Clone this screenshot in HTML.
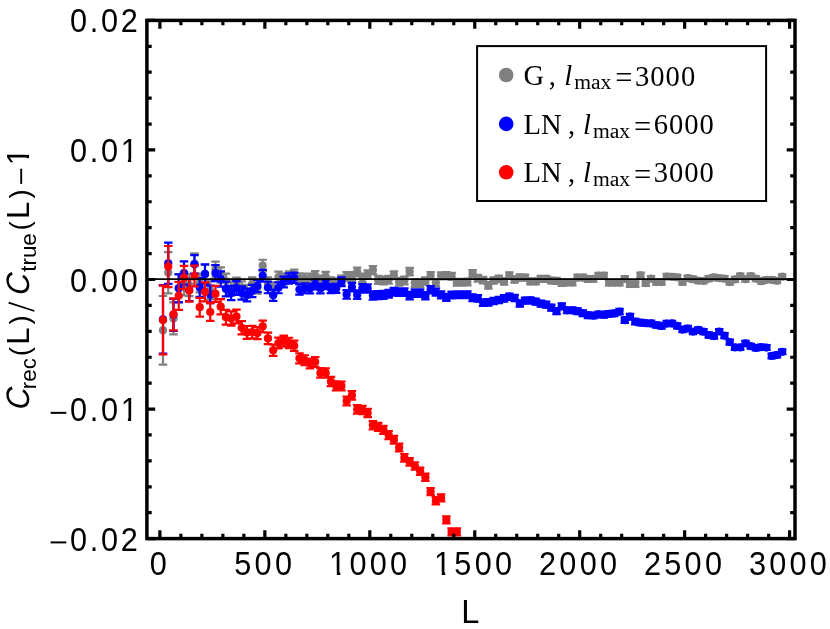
<!DOCTYPE html>
<html><head><meta charset="utf-8"><title>plot</title>
<style>html,body{margin:0;padding:0;background:#fff}svg{display:block;will-change:transform}</style></head>
<body>
<svg width="830" height="629" viewBox="0 0 830 629" style="display:block">
<rect width="830" height="629" fill="#fff"/>
<defs><clipPath id="cp"><rect x="146.9" y="20.4" width="648.1" height="518.2"/></clipPath></defs>
<g clip-path="url(#cp)">
<g fill="#808080" stroke="none"><circle cx="163.00" cy="330.30" r="4.1"/><circle cx="168.25" cy="272.70" r="4.1"/><circle cx="173.50" cy="318.40" r="4.1"/><circle cx="178.74" cy="288.00" r="4.1"/><circle cx="183.99" cy="283.70" r="4.1"/><circle cx="189.24" cy="285.00" r="4.1"/><circle cx="194.49" cy="263.60" r="4.1"/><circle cx="199.73" cy="283.00" r="4.1"/><circle cx="204.98" cy="274.30" r="4.1"/><circle cx="210.23" cy="290.00" r="4.1"/><circle cx="215.47" cy="269.60" r="4.1"/><circle cx="220.72" cy="275.00" r="4.1"/><circle cx="225.97" cy="281.00" r="4.1"/><circle cx="231.22" cy="288.50" r="4.1"/><circle cx="236.46" cy="284.50" r="4.1"/><circle cx="241.71" cy="288.00" r="4.1"/><circle cx="246.96" cy="291.30" r="4.1"/><circle cx="252.21" cy="283.50" r="4.1"/><circle cx="257.45" cy="287.60" r="4.1"/><circle cx="262.70" cy="265.60" r="4.1"/><circle cx="267.95" cy="283.00" r="4.1"/><circle cx="273.20" cy="288.00" r="4.1"/><circle cx="278.44" cy="277.00" r="4.1"/><circle cx="283.69" cy="279.00" r="4.1"/><circle cx="288.94" cy="276.50" r="4.1"/><circle cx="294.19" cy="274.70" r="4.1"/><circle cx="299.44" cy="278.50" r="4.1"/><circle cx="304.68" cy="278.50" r="4.1"/><circle cx="309.93" cy="278.50" r="4.1"/><circle cx="315.18" cy="275.90" r="4.1"/><circle cx="320.42" cy="280.30" r="4.1"/><circle cx="325.67" cy="276.60" r="4.1"/><circle cx="330.92" cy="282.00" r="4.1"/><circle cx="336.17" cy="282.80" r="4.1"/><circle cx="341.41" cy="280.00" r="4.1"/><circle cx="346.66" cy="276.50" r="4.1"/><circle cx="351.91" cy="276.50" r="4.1"/><circle cx="357.16" cy="271.90" r="4.1"/><circle cx="362.40" cy="277.80" r="4.1"/><circle cx="367.65" cy="274.50" r="4.1"/><circle cx="372.90" cy="270.10" r="4.1"/><circle cx="378.15" cy="279.80" r="4.1"/><circle cx="383.39" cy="280.50" r="4.1"/><circle cx="388.64" cy="279.80" r="4.1"/><circle cx="393.89" cy="275.20" r="4.1"/><circle cx="399.14" cy="281.80" r="4.1"/><circle cx="404.38" cy="280.50" r="4.1"/><circle cx="409.63" cy="271.60" r="4.1"/><circle cx="414.88" cy="283.10" r="4.1"/><circle cx="420.13" cy="283.10" r="4.1"/><circle cx="425.38" cy="281.10" r="4.1"/><circle cx="430.62" cy="275.80" r="4.1"/><circle cx="435.87" cy="282.70" r="4.1"/><circle cx="441.12" cy="275.80" r="4.1"/><circle cx="446.36" cy="275.60" r="4.1"/><circle cx="451.61" cy="276.30" r="4.1"/><circle cx="456.86" cy="282.20" r="4.1"/><circle cx="462.11" cy="282.20" r="4.1"/><circle cx="467.35" cy="282.00" r="4.1"/><circle cx="472.60" cy="273.50" r="4.1"/><circle cx="477.85" cy="278.20" r="4.1"/><circle cx="483.10" cy="280.20" r="4.1"/><circle cx="488.34" cy="285.40" r="4.1"/><circle cx="493.59" cy="280.50" r="4.1"/><circle cx="498.84" cy="278.90" r="4.1"/><circle cx="504.09" cy="281.40" r="4.1"/><circle cx="509.33" cy="275.60" r="4.1"/><circle cx="514.58" cy="279.50" r="4.1"/><circle cx="519.83" cy="277.60" r="4.1"/><circle cx="525.08" cy="277.60" r="4.1"/><circle cx="530.33" cy="281.40" r="4.1"/><circle cx="535.57" cy="281.40" r="4.1"/><circle cx="540.82" cy="278.90" r="4.1"/><circle cx="546.07" cy="278.90" r="4.1"/><circle cx="551.32" cy="280.50" r="4.1"/><circle cx="556.56" cy="280.90" r="4.1"/><circle cx="561.81" cy="282.90" r="4.1"/><circle cx="567.06" cy="282.50" r="4.1"/><circle cx="572.30" cy="282.50" r="4.1"/><circle cx="577.55" cy="277.60" r="4.1"/><circle cx="582.80" cy="277.60" r="4.1"/><circle cx="588.05" cy="278.90" r="4.1"/><circle cx="593.29" cy="278.90" r="4.1"/><circle cx="598.54" cy="275.60" r="4.1"/><circle cx="603.79" cy="275.60" r="4.1"/><circle cx="609.04" cy="282.70" r="4.1"/><circle cx="614.28" cy="282.70" r="4.1"/><circle cx="619.53" cy="282.70" r="4.1"/><circle cx="624.78" cy="278.90" r="4.1"/><circle cx="630.03" cy="284.10" r="4.1"/><circle cx="635.27" cy="284.10" r="4.1"/><circle cx="640.52" cy="275.40" r="4.1"/><circle cx="645.77" cy="283.10" r="4.1"/><circle cx="651.02" cy="278.70" r="4.1"/><circle cx="656.26" cy="282.10" r="4.1"/><circle cx="661.51" cy="282.10" r="4.1"/><circle cx="666.76" cy="276.50" r="4.1"/><circle cx="672.01" cy="276.80" r="4.1"/><circle cx="677.25" cy="277.40" r="4.1"/><circle cx="682.50" cy="282.10" r="4.1"/><circle cx="687.75" cy="278.10" r="4.1"/><circle cx="693.00" cy="279.20" r="4.1"/><circle cx="698.25" cy="280.60" r="4.1"/><circle cx="703.49" cy="280.80" r="4.1"/><circle cx="708.74" cy="278.70" r="4.1"/><circle cx="713.99" cy="277.30" r="4.1"/><circle cx="719.24" cy="278.10" r="4.1"/><circle cx="724.48" cy="278.70" r="4.1"/><circle cx="729.73" cy="282.10" r="4.1"/><circle cx="734.98" cy="279.40" r="4.1"/><circle cx="740.22" cy="276.10" r="4.1"/><circle cx="745.47" cy="279.20" r="4.1"/><circle cx="750.72" cy="276.10" r="4.1"/><circle cx="755.97" cy="278.70" r="4.1"/><circle cx="761.21" cy="281.20" r="4.1"/><circle cx="766.46" cy="279.80" r="4.1"/><circle cx="771.71" cy="279.80" r="4.1"/><circle cx="776.96" cy="280.80" r="4.1"/><circle cx="782.20" cy="276.70" r="4.1"/></g>
<path d="M163.00 296.00V364.60M158.75 296.00H167.25M158.75 364.60H167.25M168.25 252.10V293.30M164.00 252.10H172.50M164.00 293.30H172.50M173.50 302.40V334.40M169.25 302.40H177.75M169.25 334.40H177.75M178.74 274.00V302.00M174.49 274.00H182.99M174.49 302.00H182.99M183.99 272.10V295.30M179.74 272.10H188.24M179.74 295.30H188.24M189.24 273.90V296.10M184.99 273.90H193.49M184.99 296.10H193.49M194.49 253.30V273.90M190.24 253.30H198.74M190.24 273.90H198.74M199.73 273.60V292.40M195.48 273.60H203.98M195.48 292.40H203.98M204.98 264.80V283.80M200.73 264.80H209.23M200.73 283.80H209.23M210.23 281.20V298.80M205.98 281.20H214.48M205.98 298.80H214.48M215.47 261.61V277.59M211.22 261.61H219.72M211.22 277.59H219.72M220.72 267.36V282.64M216.47 267.36H224.97M216.47 282.64H224.97M225.97 273.67V288.33M221.72 273.67H230.22M221.72 288.33H230.22M231.22 281.45V295.55M226.97 281.45H235.47M226.97 295.55H235.47M236.46 277.69V291.31M232.21 277.69H240.71M232.21 291.31H240.71M241.71 281.42V294.58M237.46 281.42H245.96M237.46 294.58H245.96M246.96 284.92V297.68M242.71 284.92H251.21M242.71 297.68H251.21M252.21 277.30V289.70M247.96 277.30H256.46M247.96 289.70H256.46M257.45 281.57V293.63M253.20 281.57H261.70M253.20 293.63H261.70M262.70 259.73V271.47M258.45 259.73H266.95M258.45 271.47H266.95M267.95 277.27V288.73M263.70 277.27H272.20M263.70 288.73H272.20M273.20 282.40V293.60M268.95 282.40H277.45M268.95 293.60H277.45M278.44 271.53V282.47M274.19 271.53H282.69M274.19 282.47H282.69M283.69 273.65V284.35M279.44 273.65H287.94M279.44 284.35H287.94M288.94 271.26V281.74M284.69 271.26H293.19M284.69 281.74H293.19M294.19 269.56V279.84M289.94 269.56H298.44M289.94 279.84H298.44M299.44 273.46V283.54M295.19 273.46H303.69M295.19 283.54H303.69M304.68 273.55V283.45M300.43 273.55H308.93M300.43 283.45H308.93M309.93 273.64V283.36M305.68 273.64H314.18M305.68 283.36H314.18M315.18 271.12V280.68M310.93 271.12H319.43M310.93 280.68H319.43M320.42 275.60V285.00M316.17 275.60H324.67M316.17 285.00H324.67M325.67 271.97V281.23M321.42 271.97H329.92M321.42 281.23H329.92M330.92 277.45V286.55M326.67 277.45H335.17M326.67 286.55H335.17M336.17 278.31V287.29M331.92 278.31H340.42M331.92 287.29H340.42M341.41 275.58V284.42M337.16 275.58H345.66M337.16 284.42H345.66M346.66 272.14V280.86M342.41 272.14H350.91M342.41 280.86H350.91M351.91 272.20V280.80M347.66 272.20H356.16M347.66 280.80H356.16M357.16 267.66V276.14M352.91 267.66H361.41M352.91 276.14H361.41M362.40 273.61V281.99M358.15 273.61H366.65M358.15 281.99H366.65M367.65 270.37V278.63M363.40 270.37H371.90M363.40 278.63H371.90M372.90 266.02V274.18M368.65 266.02H377.15M368.65 274.18H377.15M378.15 275.77V283.83M373.90 275.77H382.40M373.90 283.83H382.40M383.39 276.52V284.48M379.14 276.52H387.64M379.14 284.48H387.64M388.64 275.86V283.74M384.39 275.86H392.89M384.39 283.74H392.89M393.89 271.31V279.09M389.64 271.31H398.14M389.64 279.09H398.14M399.14 277.95V285.65M394.89 277.95H403.39M394.89 285.65H403.39M404.38 276.69V284.31M400.13 276.69H408.63M400.13 284.31H408.63M409.63 267.83V275.37M405.38 267.83H413.88M405.38 275.37H413.88M414.88 279.37V286.83M410.63 279.37H419.13M410.63 286.83H419.13M420.13 279.41V286.79M415.88 279.41H424.38M415.88 286.79H424.38M425.38 277.44V284.76M421.12 277.44H429.62M421.12 284.76H429.62M430.62 272.18V279.42M426.37 272.18H434.87M426.37 279.42H434.87M435.87 279.11V286.29M431.62 279.11H440.12M431.62 286.29H440.12M441.12 272.25V279.35M436.87 272.25H445.37M436.87 279.35H445.37M446.36 272.08V279.12M442.11 272.08H450.61M442.11 279.12H450.61M451.61 272.81V279.79M447.36 272.81H455.86M447.36 279.79H455.86M456.86 278.74V285.66M452.61 278.74H461.11M452.61 285.66H461.11M462.11 278.77V285.63M457.86 278.77H466.36M457.86 285.63H466.36M467.35 278.60V285.40M463.10 278.60H471.60M463.10 285.40H471.60M472.60 270.13V276.87M468.35 270.13H476.85M468.35 276.87H476.85M477.85 274.86V281.54M473.60 274.86H482.10M473.60 281.54H482.10M483.10 276.89V283.51M478.85 276.89H487.35M478.85 283.51H487.35M488.34 282.11V288.69M484.09 282.11H492.59M484.09 288.69H492.59M493.59 277.24V283.76M489.34 277.24H497.84M489.34 283.76H497.84M498.84 275.66V282.14M494.59 275.66H503.09M494.59 282.14H503.09M504.09 278.19V284.61M499.84 278.19H508.34M499.84 284.61H508.34M509.33 272.41V278.79M505.08 272.41H513.59M505.08 278.79H513.59M514.58 276.34V282.66M510.33 276.34H518.83M510.33 282.66H518.83M519.83 274.46V280.74M515.58 274.46H524.08M515.58 280.74H524.08M525.08 274.48V280.72M520.83 274.48H529.33M520.83 280.72H529.33M530.33 278.31V284.49M526.08 278.31H534.58M526.08 284.49H534.58M535.57 278.33V284.47M531.32 278.33H539.82M531.32 284.47H539.82M540.82 275.85V281.95M536.57 275.85H545.07M536.57 281.95H545.07M546.07 275.87V281.93M541.82 275.87H550.32M541.82 281.93H550.32M551.32 277.49V283.51M547.07 277.49H555.57M547.07 283.51H555.57M556.56 277.91V283.89M552.31 277.91H560.81M552.31 283.89H560.81M561.81 279.93V285.87M557.56 279.93H566.06M557.56 285.87H566.06M567.06 279.55V285.45M562.81 279.55H571.31M562.81 285.45H571.31M572.30 279.57V285.43M568.05 279.57H576.55M568.05 285.43H576.55M577.55 274.69V280.51M573.30 274.69H581.80M573.30 280.51H581.80M582.80 274.70V280.50M578.55 274.70H587.05M578.55 280.50H587.05M588.05 276.02V281.78M583.80 276.02H592.30M583.80 281.78H592.30M593.29 276.04V281.76M589.04 276.04H597.54M589.04 281.76H597.54M598.54 272.76V278.44M594.29 272.76H602.79M594.29 278.44H602.79M603.79 272.77V278.43M599.54 272.77H608.04M599.54 278.43H608.04M609.04 279.89V285.51M604.79 279.89H613.29M604.79 285.51H613.29M614.28 279.91V285.49M610.03 279.91H618.53M610.03 285.49H618.53M619.53 279.92V285.48M615.28 279.92H623.78M615.28 285.48H623.78M624.78 276.14V281.66M620.53 276.14H629.03M620.53 281.66H629.03M630.03 281.35V286.85M625.78 281.35H634.28M625.78 286.85H634.28M635.27 281.37V286.83M631.02 281.37H639.52M631.02 286.83H639.52M640.52 272.68V278.12M636.27 272.68H644.77M636.27 278.12H644.77M645.77 280.40V285.80M641.52 280.40H650.02M641.52 285.80H650.02M651.02 276.01V281.39M646.77 276.01H655.27M646.77 281.39H655.27M656.26 279.43V284.77M652.01 279.43H660.51M652.01 284.77H660.51M661.51 279.44V284.76M657.26 279.44H665.76M657.26 284.76H665.76M666.76 273.85V279.15M662.51 273.85H671.01M662.51 279.15H671.01M672.01 274.17V279.43M667.76 274.17H676.26M667.76 279.43H676.26M677.25 274.78V280.02M673.00 274.78H681.50M673.00 280.02H681.50M682.50 279.49V284.71M678.25 279.49H686.75M678.25 284.71H686.75M687.75 275.51V280.69M683.50 275.51H692.00M683.50 280.69H692.00M693.00 276.62V281.78M688.75 276.62H697.25M688.75 281.78H697.25M698.25 278.03V283.17M694.00 278.03H702.50M694.00 283.17H702.50M703.49 278.25V283.35M699.24 278.25H707.74M699.24 283.35H707.74M708.74 276.16V281.24M704.49 276.16H712.99M704.49 281.24H712.99M713.99 274.77V279.83M709.74 274.77H718.24M709.74 279.83H718.24M719.24 275.58V280.62M714.99 275.58H723.49M714.99 280.62H723.49M724.48 276.19V281.21M720.23 276.19H728.73M720.23 281.21H728.73M729.73 279.60V284.60M725.48 279.60H733.98M725.48 284.60H733.98M734.98 276.92V281.88M730.73 276.92H739.23M730.73 281.88H739.23M740.22 273.63V278.57M735.97 273.63H744.47M735.97 278.57H744.47M745.47 276.74V281.66M741.22 276.74H749.72M741.22 281.66H749.72M750.72 273.65V278.55M746.47 273.65H754.97M746.47 278.55H754.97M755.97 276.26V281.14M751.72 276.26H760.22M751.72 281.14H760.22M761.21 278.77V283.63M756.96 278.77H765.46M756.96 283.63H765.46M766.46 277.38V282.22M762.21 277.38H770.71M762.21 282.22H770.71M771.71 277.39V282.21M767.46 277.39H775.96M767.46 282.21H775.96M776.96 278.40V283.20M772.71 278.40H781.21M772.71 283.20H781.21M782.20 274.31V279.09M777.95 274.31H786.45M777.95 279.09H786.45" stroke="#808080" stroke-width="2.2" fill="none"/>
<g fill="#0000ff" stroke="none"><circle cx="163.00" cy="319.40" r="4.1"/><circle cx="168.25" cy="263.30" r="4.1"/><circle cx="173.50" cy="314.80" r="4.1"/><circle cx="178.74" cy="288.30" r="4.1"/><circle cx="183.99" cy="273.00" r="4.1"/><circle cx="189.24" cy="290.00" r="4.1"/><circle cx="194.49" cy="264.30" r="4.1"/><circle cx="199.73" cy="287.40" r="4.1"/><circle cx="204.98" cy="273.90" r="4.1"/><circle cx="210.23" cy="294.40" r="4.1"/><circle cx="215.47" cy="273.20" r="4.1"/><circle cx="220.72" cy="279.00" r="4.1"/><circle cx="225.97" cy="289.00" r="4.1"/><circle cx="231.22" cy="293.00" r="4.1"/><circle cx="236.46" cy="288.00" r="4.1"/><circle cx="241.71" cy="293.00" r="4.1"/><circle cx="246.96" cy="295.00" r="4.1"/><circle cx="252.21" cy="291.00" r="4.1"/><circle cx="257.45" cy="286.00" r="4.1"/><circle cx="262.70" cy="275.80" r="4.1"/><circle cx="267.95" cy="287.50" r="4.1"/><circle cx="273.20" cy="295.20" r="4.1"/><circle cx="278.44" cy="287.80" r="4.1"/><circle cx="283.69" cy="282.00" r="4.1"/><circle cx="288.94" cy="278.50" r="4.1"/><circle cx="294.19" cy="277.80" r="4.1"/><circle cx="299.44" cy="289.50" r="4.1"/><circle cx="304.68" cy="288.30" r="4.1"/><circle cx="309.93" cy="288.60" r="4.1"/><circle cx="315.18" cy="284.50" r="4.1"/><circle cx="320.42" cy="288.60" r="4.1"/><circle cx="325.67" cy="284.50" r="4.1"/><circle cx="330.92" cy="288.60" r="4.1"/><circle cx="336.17" cy="288.40" r="4.1"/><circle cx="341.41" cy="281.80" r="4.1"/><circle cx="346.66" cy="294.40" r="4.1"/><circle cx="351.91" cy="287.10" r="4.1"/><circle cx="357.16" cy="294.70" r="4.1"/><circle cx="362.40" cy="288.40" r="4.1"/><circle cx="367.65" cy="288.40" r="4.1"/><circle cx="372.90" cy="295.50" r="4.1"/><circle cx="378.15" cy="295.10" r="4.1"/><circle cx="383.39" cy="294.80" r="4.1"/><circle cx="388.64" cy="293.70" r="4.1"/><circle cx="393.89" cy="291.70" r="4.1"/><circle cx="399.14" cy="292.10" r="4.1"/><circle cx="404.38" cy="292.10" r="4.1"/><circle cx="409.63" cy="295.70" r="4.1"/><circle cx="414.88" cy="293.10" r="4.1"/><circle cx="420.13" cy="293.10" r="4.1"/><circle cx="425.38" cy="295.70" r="4.1"/><circle cx="430.62" cy="289.80" r="4.1"/><circle cx="435.87" cy="292.10" r="4.1"/><circle cx="441.12" cy="294.80" r="4.1"/><circle cx="446.36" cy="297.30" r="4.1"/><circle cx="451.61" cy="295.00" r="4.1"/><circle cx="456.86" cy="294.80" r="4.1"/><circle cx="462.11" cy="294.70" r="4.1"/><circle cx="467.35" cy="294.70" r="4.1"/><circle cx="472.60" cy="297.70" r="4.1"/><circle cx="477.85" cy="298.40" r="4.1"/><circle cx="483.10" cy="302.70" r="4.1"/><circle cx="488.34" cy="302.40" r="4.1"/><circle cx="493.59" cy="301.00" r="4.1"/><circle cx="498.84" cy="300.00" r="4.1"/><circle cx="504.09" cy="298.40" r="4.1"/><circle cx="509.33" cy="296.70" r="4.1"/><circle cx="514.58" cy="298.10" r="4.1"/><circle cx="519.83" cy="303.40" r="4.1"/><circle cx="525.08" cy="300.60" r="4.1"/><circle cx="530.33" cy="300.40" r="4.1"/><circle cx="535.57" cy="301.70" r="4.1"/><circle cx="540.82" cy="303.70" r="4.1"/><circle cx="546.07" cy="304.60" r="4.1"/><circle cx="551.32" cy="307.70" r="4.1"/><circle cx="556.56" cy="311.20" r="4.1"/><circle cx="561.81" cy="306.30" r="4.1"/><circle cx="567.06" cy="310.30" r="4.1"/><circle cx="572.30" cy="310.30" r="4.1"/><circle cx="577.55" cy="311.20" r="4.1"/><circle cx="582.80" cy="313.20" r="4.1"/><circle cx="588.05" cy="315.20" r="4.1"/><circle cx="593.29" cy="315.60" r="4.1"/><circle cx="598.54" cy="314.40" r="4.1"/><circle cx="603.79" cy="314.70" r="4.1"/><circle cx="609.04" cy="313.90" r="4.1"/><circle cx="614.28" cy="313.40" r="4.1"/><circle cx="619.53" cy="311.60" r="4.1"/><circle cx="624.78" cy="320.20" r="4.1"/><circle cx="630.03" cy="316.70" r="4.1"/><circle cx="635.27" cy="321.60" r="4.1"/><circle cx="640.52" cy="322.60" r="4.1"/><circle cx="645.77" cy="323.20" r="4.1"/><circle cx="651.02" cy="323.40" r="4.1"/><circle cx="656.26" cy="325.00" r="4.1"/><circle cx="661.51" cy="325.90" r="4.1"/><circle cx="666.76" cy="323.60" r="4.1"/><circle cx="672.01" cy="323.40" r="4.1"/><circle cx="677.25" cy="325.90" r="4.1"/><circle cx="682.50" cy="329.60" r="4.1"/><circle cx="687.75" cy="328.50" r="4.1"/><circle cx="693.00" cy="331.60" r="4.1"/><circle cx="698.25" cy="329.80" r="4.1"/><circle cx="703.49" cy="331.70" r="4.1"/><circle cx="708.74" cy="335.00" r="4.1"/><circle cx="713.99" cy="336.10" r="4.1"/><circle cx="719.24" cy="331.50" r="4.1"/><circle cx="724.48" cy="335.70" r="4.1"/><circle cx="729.73" cy="342.10" r="4.1"/><circle cx="734.98" cy="347.40" r="4.1"/><circle cx="740.22" cy="347.40" r="4.1"/><circle cx="745.47" cy="343.30" r="4.1"/><circle cx="750.72" cy="346.20" r="4.1"/><circle cx="755.97" cy="347.90" r="4.1"/><circle cx="761.21" cy="347.10" r="4.1"/><circle cx="766.46" cy="347.60" r="4.1"/><circle cx="771.71" cy="355.90" r="4.1"/><circle cx="776.96" cy="354.90" r="4.1"/><circle cx="782.20" cy="351.80" r="4.1"/></g>
<path d="M163.00 285.10V353.70M158.75 285.10H167.25M158.75 353.70H167.25M168.25 242.70V283.90M164.00 242.70H172.50M164.00 283.90H172.50M173.50 298.80V330.80M169.25 298.80H177.75M169.25 330.80H177.75M178.74 274.30V302.30M174.49 274.30H182.99M174.49 302.30H182.99M183.99 261.40V284.60M179.74 261.40H188.24M179.74 284.60H188.24M189.24 278.90V301.10M184.99 278.90H193.49M184.99 301.10H193.49M194.49 255.10V273.50M190.24 255.10H198.74M190.24 273.50H198.74M199.73 278.00V296.80M195.48 278.00H203.98M195.48 296.80H203.98M204.98 264.40V283.40M200.73 264.40H209.23M200.73 283.40H209.23M210.23 285.60V303.20M205.98 285.60H214.48M205.98 303.20H214.48M215.47 265.21V281.19M211.22 265.21H219.72M211.22 281.19H219.72M220.72 271.36V286.64M216.47 271.36H224.97M216.47 286.64H224.97M225.97 281.67V296.33M221.72 281.67H230.22M221.72 296.33H230.22M231.22 285.95V300.05M226.97 285.95H235.47M226.97 300.05H235.47M236.46 281.19V294.81M232.21 281.19H240.71M232.21 294.81H240.71M241.71 286.42V299.58M237.46 286.42H245.96M237.46 299.58H245.96M246.96 288.62V301.38M242.71 288.62H251.21M242.71 301.38H251.21M252.21 284.80V297.20M247.96 284.80H256.46M247.96 297.20H256.46M257.45 279.97V292.03M253.20 279.97H261.70M253.20 292.03H261.70M262.70 269.93V281.67M258.45 269.93H266.95M258.45 281.67H266.95M267.95 281.77V293.23M263.70 281.77H272.20M263.70 293.23H272.20M273.20 289.60V300.80M268.95 289.60H277.45M268.95 300.80H277.45M278.44 282.33V293.27M274.19 282.33H282.69M274.19 293.27H282.69M283.69 276.65V287.35M279.44 276.65H287.94M279.44 287.35H287.94M288.94 273.26V283.74M284.69 273.26H293.19M284.69 283.74H293.19M294.19 272.66V282.94M289.94 272.66H298.44M289.94 282.94H298.44M299.44 284.46V294.54M295.19 284.46H303.69M295.19 294.54H303.69M304.68 283.35V293.25M300.43 283.35H308.93M300.43 293.25H308.93M309.93 283.74V293.46M305.68 283.74H314.18M305.68 293.46H314.18M315.18 279.72V289.28M310.93 279.72H319.43M310.93 289.28H319.43M320.42 283.90V293.30M316.17 283.90H324.67M316.17 293.30H324.67M325.67 279.87V289.13M321.42 279.87H329.92M321.42 289.13H329.92M330.92 284.05V293.15M326.67 284.05H335.17M326.67 293.15H335.17M336.17 283.91V292.89M331.92 283.91H340.42M331.92 292.89H340.42M341.41 277.38V286.22M337.16 277.38H345.66M337.16 286.22H345.66M346.66 290.04V298.76M342.41 290.04H350.91M342.41 298.76H350.91M351.91 282.80V291.40M347.66 282.80H356.16M347.66 291.40H356.16M357.16 290.46V298.94M352.91 290.46H361.41M352.91 298.94H361.41M362.40 284.21V292.59M358.15 284.21H366.65M358.15 292.59H366.65M367.65 284.27V292.53M363.40 284.27H371.90M363.40 292.53H371.90M372.90 291.42V299.58M368.65 291.42H377.15M368.65 299.58H377.15M378.15 291.07V299.13M373.90 291.07H382.40M373.90 299.13H382.40M383.39 290.82V298.78M379.14 290.82H387.64M379.14 298.78H387.64M388.64 289.76V297.64M384.39 289.76H392.89M384.39 297.64H392.89M393.89 287.81V295.59M389.64 287.81H398.14M389.64 295.59H398.14M399.14 288.25V295.95M394.89 288.25H403.39M394.89 295.95H403.39M404.38 288.29V295.91M400.13 288.29H408.63M400.13 295.91H408.63M409.63 291.93V299.47M405.38 291.93H413.88M405.38 299.47H413.88M414.88 289.37V296.83M410.63 289.37H419.13M410.63 296.83H419.13M420.13 289.41V296.79M415.88 289.41H424.38M415.88 296.79H424.38M425.38 292.04V299.36M421.12 292.04H429.62M421.12 299.36H429.62M430.62 286.18V293.42M426.37 286.18H434.87M426.37 293.42H434.87M435.87 288.51V295.69M431.62 288.51H440.12M431.62 295.69H440.12M441.12 291.25V298.35M436.87 291.25H445.37M436.87 298.35H445.37M446.36 293.78V300.82M442.11 293.78H450.61M442.11 300.82H450.61M451.61 291.51V298.49M447.36 291.51H455.86M447.36 298.49H455.86M456.86 291.34V298.26M452.61 291.34H461.11M452.61 298.26H461.11M462.11 291.27V298.13M457.86 291.27H466.36M457.86 298.13H466.36M467.35 291.30V298.10M463.10 291.30H471.60M463.10 298.10H471.60M472.60 294.33V301.07M468.35 294.33H476.85M468.35 301.07H476.85M477.85 295.06V301.74M473.60 295.06H482.10M473.60 301.74H482.10M483.10 299.39V306.01M478.85 299.39H487.35M478.85 306.01H487.35M488.34 299.11V305.69M484.09 299.11H492.59M484.09 305.69H492.59M493.59 297.74V304.26M489.34 297.74H497.84M489.34 304.26H497.84M498.84 296.76V303.24M494.59 296.76H503.09M494.59 303.24H503.09M504.09 295.19V301.61M499.84 295.19H508.34M499.84 301.61H508.34M509.33 293.51V299.89M505.08 293.51H513.59M505.08 299.89H513.59M514.58 294.94V301.26M510.33 294.94H518.83M510.33 301.26H518.83M519.83 300.26V306.54M515.58 300.26H524.08M515.58 306.54H524.08M525.08 297.48V303.72M520.83 297.48H529.33M520.83 303.72H529.33M530.33 297.31V303.49M526.08 297.31H534.58M526.08 303.49H534.58M535.57 298.63V304.77M531.32 298.63H539.82M531.32 304.77H539.82M540.82 300.65V306.75M536.57 300.65H545.07M536.57 306.75H545.07M546.07 301.57V307.63M541.82 301.57H550.32M541.82 307.63H550.32M551.32 304.69V310.71M547.07 304.69H555.57M547.07 310.71H555.57M556.56 308.21V314.19M552.31 308.21H560.81M552.31 314.19H560.81M561.81 303.33V309.27M557.56 303.33H566.06M557.56 309.27H566.06M567.06 307.35V313.25M562.81 307.35H571.31M562.81 313.25H571.31M572.30 307.37V313.23M568.05 307.37H576.55M568.05 313.23H576.55M577.55 308.29V314.11M573.30 308.29H581.80M573.30 314.11H581.80M582.80 310.30V316.10M578.55 310.30H587.05M578.55 316.10H587.05M588.05 312.32V318.08M583.80 312.32H592.30M583.80 318.08H592.30M593.29 312.74V318.46M589.04 312.74H597.54M589.04 318.46H597.54M598.54 311.56V317.24M594.29 311.56H602.79M594.29 317.24H602.79M603.79 311.87V317.53M599.54 311.87H608.04M599.54 317.53H608.04M609.04 311.09V316.71M604.79 311.09H613.29M604.79 316.71H613.29M614.28 310.61V316.19M610.03 310.61H618.53M610.03 316.19H618.53M619.53 308.82V314.38M615.28 308.82H623.78M615.28 314.38H623.78M624.78 317.44V322.96M620.53 317.44H629.03M620.53 322.96H629.03M630.03 313.95V319.45M625.78 313.95H634.28M625.78 319.45H634.28M635.27 318.87V324.33M631.02 318.87H639.52M631.02 324.33H639.52M640.52 319.88V325.32M636.27 319.88H644.77M636.27 325.32H644.77M645.77 320.50V325.90M641.52 320.50H650.02M641.52 325.90H650.02M651.02 320.71V326.09M646.77 320.71H655.27M646.77 326.09H655.27M656.26 322.33V327.67M652.01 322.33H660.51M652.01 327.67H660.51M661.51 323.24V328.56M657.26 323.24H665.76M657.26 328.56H665.76M666.76 320.95V326.25M662.51 320.95H671.01M662.51 326.25H671.01M672.01 320.77V326.03M667.76 320.77H676.26M667.76 326.03H676.26M677.25 323.28V328.52M673.00 323.28H681.50M673.00 328.52H681.50M682.50 326.99V332.21M678.25 326.99H686.75M678.25 332.21H686.75M687.75 325.91V331.09M683.50 325.91H692.00M683.50 331.09H692.00M693.00 329.02V334.18M688.75 329.02H697.25M688.75 334.18H697.25M698.25 327.23V332.37M694.00 327.23H702.50M694.00 332.37H702.50M703.49 329.15V334.25M699.24 329.15H707.74M699.24 334.25H707.74M708.74 332.46V337.54M704.49 332.46H712.99M704.49 337.54H712.99M713.99 333.57V338.63M709.74 333.57H718.24M709.74 338.63H718.24M719.24 328.98V334.02M714.99 328.98H723.49M714.99 334.02H723.49M724.48 333.19V338.21M720.23 333.19H728.73M720.23 338.21H728.73M729.73 339.60V344.60M725.48 339.60H733.98M725.48 344.60H733.98M734.98 344.92V349.88M730.73 344.92H739.23M730.73 349.88H739.23M740.22 344.93V349.87M735.97 344.93H744.47M735.97 349.87H744.47M745.47 340.84V345.76M741.22 340.84H749.72M741.22 345.76H749.72M750.72 343.75V348.65M746.47 343.75H754.97M746.47 348.65H754.97M755.97 345.46V350.34M751.72 345.46H760.22M751.72 350.34H760.22M761.21 344.67V349.53M756.96 344.67H765.46M756.96 349.53H765.46M766.46 345.18V350.02M762.21 345.18H770.71M762.21 350.02H770.71M771.71 353.49V358.31M767.46 353.49H775.96M767.46 358.31H775.96M776.96 352.50V357.30M772.71 352.50H781.21M772.71 357.30H781.21M782.20 349.41V354.19M777.95 349.41H786.45M777.95 354.19H786.45" stroke="#0000ff" stroke-width="2.2" fill="none"/>
<g fill="#ff0000" stroke="none"><circle cx="163.00" cy="320.00" r="4.1"/><circle cx="168.25" cy="266.60" r="4.1"/><circle cx="173.50" cy="314.30" r="4.1"/><circle cx="178.74" cy="295.80" r="4.1"/><circle cx="183.99" cy="277.50" r="4.1"/><circle cx="189.24" cy="290.50" r="4.1"/><circle cx="194.49" cy="276.00" r="4.1"/><circle cx="199.73" cy="307.20" r="4.1"/><circle cx="204.98" cy="291.90" r="4.1"/><circle cx="210.23" cy="312.00" r="4.1"/><circle cx="215.47" cy="293.90" r="4.1"/><circle cx="220.72" cy="306.70" r="4.1"/><circle cx="225.97" cy="317.20" r="4.1"/><circle cx="231.22" cy="318.50" r="4.1"/><circle cx="236.46" cy="316.50" r="4.1"/><circle cx="241.71" cy="327.80" r="4.1"/><circle cx="246.96" cy="332.40" r="4.1"/><circle cx="252.21" cy="332.10" r="4.1"/><circle cx="257.45" cy="333.10" r="4.1"/><circle cx="262.70" cy="326.40" r="4.1"/><circle cx="267.95" cy="338.40" r="4.1"/><circle cx="273.20" cy="350.30" r="4.1"/><circle cx="278.44" cy="343.00" r="4.1"/><circle cx="283.69" cy="341.00" r="4.1"/><circle cx="288.94" cy="343.00" r="4.1"/><circle cx="294.19" cy="345.70" r="4.1"/><circle cx="299.44" cy="358.30" r="4.1"/><circle cx="304.68" cy="360.20" r="4.1"/><circle cx="309.93" cy="363.60" r="4.1"/><circle cx="315.18" cy="362.00" r="4.1"/><circle cx="320.42" cy="372.90" r="4.1"/><circle cx="325.67" cy="372.90" r="4.1"/><circle cx="330.92" cy="381.50" r="4.1"/><circle cx="336.17" cy="385.90" r="4.1"/><circle cx="341.41" cy="385.90" r="4.1"/><circle cx="346.66" cy="401.00" r="4.1"/><circle cx="351.91" cy="395.40" r="4.1"/><circle cx="357.16" cy="409.30" r="4.1"/><circle cx="362.40" cy="410.00" r="4.1"/><circle cx="367.65" cy="413.00" r="4.1"/><circle cx="372.90" cy="425.20" r="4.1"/><circle cx="378.15" cy="426.90" r="4.1"/><circle cx="383.39" cy="429.80" r="4.1"/><circle cx="388.64" cy="435.10" r="4.1"/><circle cx="393.89" cy="439.70" r="4.1"/><circle cx="399.14" cy="447.50" r="4.1"/><circle cx="404.38" cy="457.80" r="4.1"/><circle cx="409.63" cy="461.80" r="4.1"/><circle cx="414.88" cy="466.00" r="4.1"/><circle cx="420.13" cy="471.30" r="4.1"/><circle cx="425.38" cy="477.30" r="4.1"/><circle cx="430.62" cy="491.60" r="4.1"/><circle cx="435.87" cy="500.80" r="4.1"/><circle cx="441.12" cy="497.90" r="4.1"/><circle cx="446.36" cy="519.90" r="4.1"/><circle cx="451.61" cy="531.90" r="4.1"/><circle cx="456.86" cy="531.90" r="4.1"/></g>
<path d="M163.00 285.70V354.30M158.75 285.70H167.25M158.75 354.30H167.25M168.25 246.00V287.20M164.00 246.00H172.50M164.00 287.20H172.50M173.50 298.30V330.30M169.25 298.30H177.75M169.25 330.30H177.75M178.74 281.80V309.80M174.49 281.80H182.99M174.49 309.80H182.99M183.99 265.90V289.10M179.74 265.90H188.24M179.74 289.10H188.24M189.24 279.40V301.60M184.99 279.40H193.49M184.99 301.60H193.49M194.49 265.70V286.30M190.24 265.70H198.74M190.24 286.30H198.74M199.73 297.80V316.60M195.48 297.80H203.98M195.48 316.60H203.98M204.98 282.40V301.40M200.73 282.40H209.23M200.73 301.40H209.23M210.23 303.20V320.80M205.98 303.20H214.48M205.98 320.80H214.48M215.47 285.91V301.89M211.22 285.91H219.72M211.22 301.89H219.72M220.72 299.06V314.34M216.47 299.06H224.97M216.47 314.34H224.97M225.97 309.87V324.53M221.72 309.87H230.22M221.72 324.53H230.22M231.22 311.45V325.55M226.97 311.45H235.47M226.97 325.55H235.47M236.46 309.69V323.31M232.21 309.69H240.71M232.21 323.31H240.71M241.71 321.22V334.38M237.46 321.22H245.96M237.46 334.38H245.96M246.96 326.02V338.78M242.71 326.02H251.21M242.71 338.78H251.21M252.21 325.90V338.30M247.96 325.90H256.46M247.96 338.30H256.46M257.45 327.07V339.13M253.20 327.07H261.70M253.20 339.13H261.70M262.70 320.53V332.27M258.45 320.53H266.95M258.45 332.27H266.95M267.95 332.67V344.13M263.70 332.67H272.20M263.70 344.13H272.20M273.20 344.70V355.90M268.95 344.70H277.45M268.95 355.90H277.45M278.44 337.53V348.47M274.19 337.53H282.69M274.19 348.47H282.69M283.69 335.65V346.35M279.44 335.65H287.94M279.44 346.35H287.94M288.94 337.76V348.24M284.69 337.76H293.19M284.69 348.24H293.19M294.19 340.56V350.84M289.94 340.56H298.44M289.94 350.84H298.44M299.44 353.26V363.34M295.19 353.26H303.69M295.19 363.34H303.69M304.68 355.25V365.15M300.43 355.25H308.93M300.43 365.15H308.93M309.93 358.74V368.46M305.68 358.74H314.18M305.68 368.46H314.18M315.18 357.22V366.78M310.93 357.22H319.43M310.93 366.78H319.43M320.42 368.20V377.60M316.17 368.20H324.67M316.17 377.60H324.67M325.67 368.27V377.53M321.42 368.27H329.92M321.42 377.53H329.92M330.92 376.95V386.05M326.67 376.95H335.17M326.67 386.05H335.17M336.17 381.41V390.39M331.92 381.41H340.42M331.92 390.39H340.42M341.41 381.48V390.32M337.16 381.48H345.66M337.16 390.32H345.66M346.66 396.64V405.36M342.41 396.64H350.91M342.41 405.36H350.91M351.91 391.10V399.70M347.66 391.10H356.16M347.66 399.70H356.16M357.16 405.06V413.54M352.91 405.06H361.41M352.91 413.54H361.41M362.40 405.81V414.19M358.15 405.81H366.65M358.15 414.19H366.65M367.65 408.87V417.13M363.40 408.87H371.90M363.40 417.13H371.90M372.90 421.12V429.28M368.65 421.12H377.15M368.65 429.28H377.15M378.15 422.87V430.93M373.90 422.87H382.40M373.90 430.93H382.40M383.39 425.82V433.78M379.14 425.82H387.64M379.14 433.78H387.64M388.64 431.16V439.04M384.39 431.16H392.89M384.39 439.04H392.89M393.89 435.81V443.59M389.64 435.81H398.14M389.64 443.59H398.14M399.14 443.65V451.35M394.89 443.65H403.39M394.89 451.35H403.39M404.38 453.99V461.61M400.13 453.99H408.63M400.13 461.61H408.63M409.63 458.03V465.57M405.38 458.03H413.88M405.38 465.57H413.88M414.88 462.27V469.73M410.63 462.27H419.13M410.63 469.73H419.13M420.13 467.61V474.99M415.88 467.61H424.38M415.88 474.99H424.38M425.38 473.64V480.96M421.12 473.64H429.62M421.12 480.96H429.62M430.62 487.98V495.22M426.37 487.98H434.87M426.37 495.22H434.87M435.87 497.21V504.39M431.62 497.21H440.12M431.62 504.39H440.12M441.12 494.35V501.45M436.87 494.35H445.37M436.87 501.45H445.37M446.36 516.38V523.42M442.11 516.38H450.61M442.11 523.42H450.61M451.61 528.41V535.39M447.36 528.41H455.86M447.36 535.39H455.86M456.86 528.44V535.36M452.61 528.44H461.11M452.61 535.36H461.11" stroke="#ff0000" stroke-width="2.2" fill="none"/>
<line x1="146.9" y1="279.1" x2="795.0" y2="279.1" stroke="#000" stroke-width="1.9"/>
</g>
<path d="M159.90 538.6v-8.3M159.90 20.4v8.3M180.89 538.6v-4.8M180.89 20.4v4.8M201.88 538.6v-4.8M201.88 20.4v4.8M222.87 538.6v-4.8M222.87 20.4v4.8M243.86 538.6v-4.8M243.86 20.4v4.8M264.85 538.6v-8.3M264.85 20.4v8.3M285.84 538.6v-4.8M285.84 20.4v4.8M306.83 538.6v-4.8M306.83 20.4v4.8M327.82 538.6v-4.8M327.82 20.4v4.8M348.81 538.6v-4.8M348.81 20.4v4.8M369.80 538.6v-8.3M369.80 20.4v8.3M390.79 538.6v-4.8M390.79 20.4v4.8M411.78 538.6v-4.8M411.78 20.4v4.8M432.77 538.6v-4.8M432.77 20.4v4.8M453.76 538.6v-4.8M453.76 20.4v4.8M474.75 538.6v-8.3M474.75 20.4v8.3M495.74 538.6v-4.8M495.74 20.4v4.8M516.73 538.6v-4.8M516.73 20.4v4.8M537.72 538.6v-4.8M537.72 20.4v4.8M558.71 538.6v-4.8M558.71 20.4v4.8M579.70 538.6v-8.3M579.70 20.4v8.3M600.69 538.6v-4.8M600.69 20.4v4.8M621.68 538.6v-4.8M621.68 20.4v4.8M642.67 538.6v-4.8M642.67 20.4v4.8M663.66 538.6v-4.8M663.66 20.4v4.8M684.65 538.6v-8.3M684.65 20.4v8.3M705.64 538.6v-4.8M705.64 20.4v4.8M726.63 538.6v-4.8M726.63 20.4v4.8M747.62 538.6v-4.8M747.62 20.4v4.8M768.61 538.6v-4.8M768.61 20.4v4.8M789.60 538.6v-8.3M789.60 20.4v8.3M146.9 538.60h8.3M795.0 538.60h-8.3M146.9 512.69h4.8M795.0 512.69h-4.8M146.9 486.78h4.8M795.0 486.78h-4.8M146.9 460.87h4.8M795.0 460.87h-4.8M146.9 434.96h4.8M795.0 434.96h-4.8M146.9 409.05h8.3M795.0 409.05h-8.3M146.9 383.14h4.8M795.0 383.14h-4.8M146.9 357.23h4.8M795.0 357.23h-4.8M146.9 331.32h4.8M795.0 331.32h-4.8M146.9 305.41h4.8M795.0 305.41h-4.8M146.9 279.50h8.3M795.0 279.50h-8.3M146.9 253.59h4.8M795.0 253.59h-4.8M146.9 227.68h4.8M795.0 227.68h-4.8M146.9 201.77h4.8M795.0 201.77h-4.8M146.9 175.86h4.8M795.0 175.86h-4.8M146.9 149.95h8.3M795.0 149.95h-8.3M146.9 124.04h4.8M795.0 124.04h-4.8M146.9 98.13h4.8M795.0 98.13h-4.8M146.9 72.22h4.8M795.0 72.22h-4.8M146.9 46.31h4.8M795.0 46.31h-4.8M146.9 20.40h8.3M795.0 20.40h-8.3" stroke="#000" stroke-width="3.2" fill="none"/>
<rect x="146.9" y="20.4" width="648.1" height="518.2" fill="none" stroke="#000" stroke-width="3.5"/>
<g font-family="Liberation Sans, sans-serif" font-size="33" letter-spacing="3.5" fill="#000">
<text transform="translate(137.8 32.40) scale(0.93 1)" x="2.9" y="0" text-anchor="end" letter-spacing="2.9">0.02</text>
<text transform="translate(137.8 161.95) scale(0.93 1)" x="2.9" y="0" text-anchor="end" letter-spacing="2.9">0.01</text>
<rect x="121.5" y="158.35" width="6.4" height="4.6" fill="#fff"/><rect x="131.1" y="158.35" width="6.9" height="4.6" fill="#fff"/>
<text transform="translate(137.8 291.50) scale(0.93 1)" x="2.9" y="0" text-anchor="end" letter-spacing="2.9">0.00</text>
<text transform="translate(137.8 421.05) scale(0.93 1)" x="2.9" y="0" text-anchor="end" letter-spacing="2.9">0.01</text>
<line x1="50.6" x2="66.3" y1="412.85" y2="412.85" stroke="#000" stroke-width="2"/>
<rect x="121.5" y="417.45" width="6.4" height="4.6" fill="#fff"/><rect x="131.1" y="417.45" width="6.9" height="4.6" fill="#fff"/>
<text transform="translate(137.8 550.60) scale(0.93 1)" x="2.9" y="0" text-anchor="end" letter-spacing="2.9">0.02</text>
<line x1="50.6" x2="66.3" y1="542.40" y2="542.40" stroke="#000" stroke-width="2"/>
<text transform="translate(158.20 574.6) scale(0.93 1)" x="1.75" y="0" text-anchor="middle">0</text>
<text transform="translate(263.15 574.6) scale(0.93 1)" x="1.75" y="0" text-anchor="middle">500</text>
<text transform="translate(368.10 574.6) scale(0.93 1)" x="1.75" y="0" text-anchor="middle">1000</text>
<rect x="330.20" y="571.3" width="6.6" height="4.5" fill="#fff"/><rect x="340.30" y="571.3" width="6.6" height="4.5" fill="#fff"/>
<text transform="translate(473.05 574.6) scale(0.93 1)" x="1.75" y="0" text-anchor="middle">1500</text>
<rect x="435.15" y="571.3" width="6.6" height="4.5" fill="#fff"/><rect x="445.25" y="571.3" width="6.6" height="4.5" fill="#fff"/>
<text transform="translate(578.00 574.6) scale(0.93 1)" x="1.75" y="0" text-anchor="middle">2000</text>
<text transform="translate(682.95 574.6) scale(0.93 1)" x="1.75" y="0" text-anchor="middle">2500</text>
<text transform="translate(787.90 574.6) scale(0.93 1)" x="1.75" y="0" text-anchor="middle">3000</text>
</g>
<text font-family="Liberation Sans, sans-serif" font-size="32.5" x="461.2" y="623" fill="#000">L</text>
<g transform="translate(28.8 408.3) rotate(-90)" font-family="Liberation Sans, sans-serif" fill="#000" font-size="31">
<text transform="translate(-1.6 0.6) skewX(-4) scale(0.94 1)" x="0" y="0" font-style="italic" font-size="32.5">C</text>
<text x="19.1" y="7.3" font-size="22.4">rec</text>
<text x="52.0" y="0" font-size="27.5">(</text>
<text x="63.6" y="0" >L</text>
<text x="83.7" y="0" font-size="27.5">)</text>
<line x1="97.3" y1="5.6" x2="105.7" y2="-20.2" stroke="#000" stroke-width="1.7"/>
<text transform="translate(112.7 0.6) skewX(-4) scale(0.94 1)" x="0" y="0" font-style="italic" font-size="32.5">C</text>
<text x="136.5" y="7" font-size="22.4">true</text>
<text x="177.9" y="0" font-size="27.5">(</text>
<text x="189.4" y="0" >L</text>
<text x="209.7" y="0" font-size="27.5">)</text>
<line x1="224.4" x2="239.6" y1="-7.6" y2="-7.6" stroke="#000" stroke-width="1.9"/>
<text x="243.1" y="0" >1</text>
</g>
<rect x="25.2" y="147.5" width="5" height="7.35" fill="#fff"/><rect x="25.2" y="158.15" width="5" height="5.5" fill="#fff"/>
<rect x="477.1" y="46.1" width="289.0" height="154.9" fill="#fff" stroke="#000" stroke-width="2"/>
<g font-family="Liberation Serif, serif" font-size="28.6" fill="#000">
<circle cx="506.2" cy="75.0" r="7.3" fill="#808080"/>
<text x="523.5" y="85.4">G</text>
<text x="548.8" y="85.4">,</text>
<text x="564.3" y="85.4" font-style="italic">l</text>
<text x="574.2" y="89.2" font-size="21.6">max</text>
<text x="615.2" y="88.2" font-size="30.5">=</text>
<text x="635.0" y="85.7" letter-spacing="1.0">3000</text>
<circle cx="506.2" cy="123.9" r="7.3" fill="#0000ff"/>
<text x="523.5" y="134.1">LN</text>
<text x="568.1" y="134.1">,</text>
<text x="583.0" y="134.1" font-style="italic">l</text>
<text x="592.9000000000001" y="137.9" font-size="21.6">max</text>
<text x="633.9000000000001" y="136.9" font-size="30.5">=</text>
<text x="653.7" y="134.4" letter-spacing="1.0">6000</text>
<circle cx="506.2" cy="172.3" r="7.3" fill="#ff0000"/>
<text x="523.5" y="181.9">LN</text>
<text x="568.1" y="181.9">,</text>
<text x="583.0" y="181.9" font-style="italic">l</text>
<text x="592.9000000000001" y="185.70000000000002" font-size="21.6">max</text>
<text x="633.9000000000001" y="184.70000000000002" font-size="30.5">=</text>
<text x="653.7" y="182.20000000000002" letter-spacing="1.0">3000</text>
</g>
</svg>
</body></html>
